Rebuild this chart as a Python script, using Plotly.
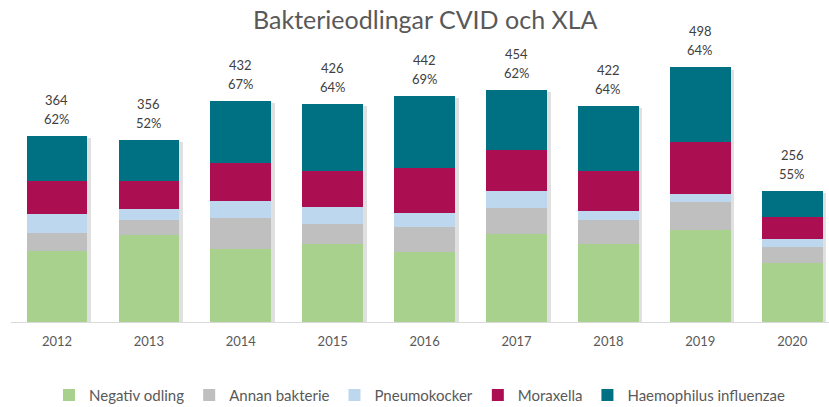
import plotly.graph_objects as go

years = ["2012", "2013", "2014", "2015", "2016", "2017", "2018", "2019", "2020"]
negativ = [138, 171, 143, 153, 137, 172, 152, 180, 115]
annan = [37, 29, 60, 38, 48, 51, 47, 54, 32]
pneumo = [36, 21, 34, 34, 29, 33, 19, 17, 15]
moraxella = [65, 54, 74, 70, 87, 80, 77, 102, 44]
haemophilus = [88, 81, 121, 131, 141, 118, 127, 145, 50]
totals = [364, 356, 432, 426, 442, 454, 422, 498, 256]
percent = ["62%", "52%", "67%", "64%", "69%", "62%", "64%", "64%", "55%"]

series = [
    ("Negativ odling", negativ, "#A9D18E"),
    ("Annan bakterie", annan, "#BFBFBF"),
    ("Pneumokocker", pneumo, "#BDD7EE"),
    ("Moraxella", moraxella, "#AB0F52"),
    ("Haemophilus influenzae", haemophilus, "#007183"),
]

xi = list(range(len(years)))
fig = go.Figure()

# soft shadow behind bars (main axis, drawn underneath)
fig.add_trace(go.Bar(
    x=xi, y=totals, base=-4, width=0.66, offset=-0.33 + 0.04,
    marker=dict(color="rgba(0,0,0,0.12)", line=dict(width=0)),
    showlegend=False, hoverinfo="skip", xaxis="x", yaxis="y",
))

for name, vals, col in series:
    fig.add_trace(go.Bar(
        x=xi, y=vals, name=name, width=0.66,
        marker=dict(color=col, line=dict(width=0)),
        xaxis="x2", yaxis="y2",
    ))

annotations = []
for i, (t, p) in enumerate(zip(totals, percent)):
    annotations.append(dict(x=i, y=t, xref="x2", yref="y2", text=str(t), showarrow=False,
                            yanchor="middle", yshift=36,
                            font=dict(size=13, color="#404040", family="Lato")))
    annotations.append(dict(x=i, y=t, xref="x2", yref="y2", text=p, showarrow=False,
                            yanchor="middle", yshift=17,
                            font=dict(size=13, color="#404040", family="Lato")))

xr = [-0.5, 8.4]
yr = [0, 542]
fig.update_layout(
    width=829, height=407,
    margin=dict(l=11, r=0, t=45, b=85, autoexpand=False),
    paper_bgcolor="white", plot_bgcolor="white",
    barmode="stack", bargap=0.34,
    title=dict(text="Bakterieodlingar CVID och XLA", x=0.513, xanchor="center",
               y=0.95, yanchor="middle",
               font=dict(size=25, color="#595959", family="Lato")),
    xaxis=dict(range=xr, showticklabels=False, showgrid=False, zeroline=False,
               showline=False, fixedrange=True),
    yaxis=dict(range=yr, visible=False, fixedrange=True),
    xaxis2=dict(range=xr, overlaying="x", tickmode="array", tickvals=xi, ticktext=years,
                showgrid=False, zeroline=False, showline=True, linecolor="#D9D9D9",
                linewidth=1, ticks="", ticklabelstandoff=7,
                tickfont=dict(size=13, color="#595959", family="Lato")),
    yaxis2=dict(range=yr, overlaying="y", visible=False),
    legend=dict(orientation="h", x=0.5, xanchor="center", y=-0.264, yanchor="middle",
                font=dict(size=15, color="#595959", family="Lato"), traceorder="normal"),
    annotations=annotations,
    showlegend=True,
)

fig.write_html("out.html", config={"displayModeBar": False},
               post_script="document.body.style.margin='0';")
